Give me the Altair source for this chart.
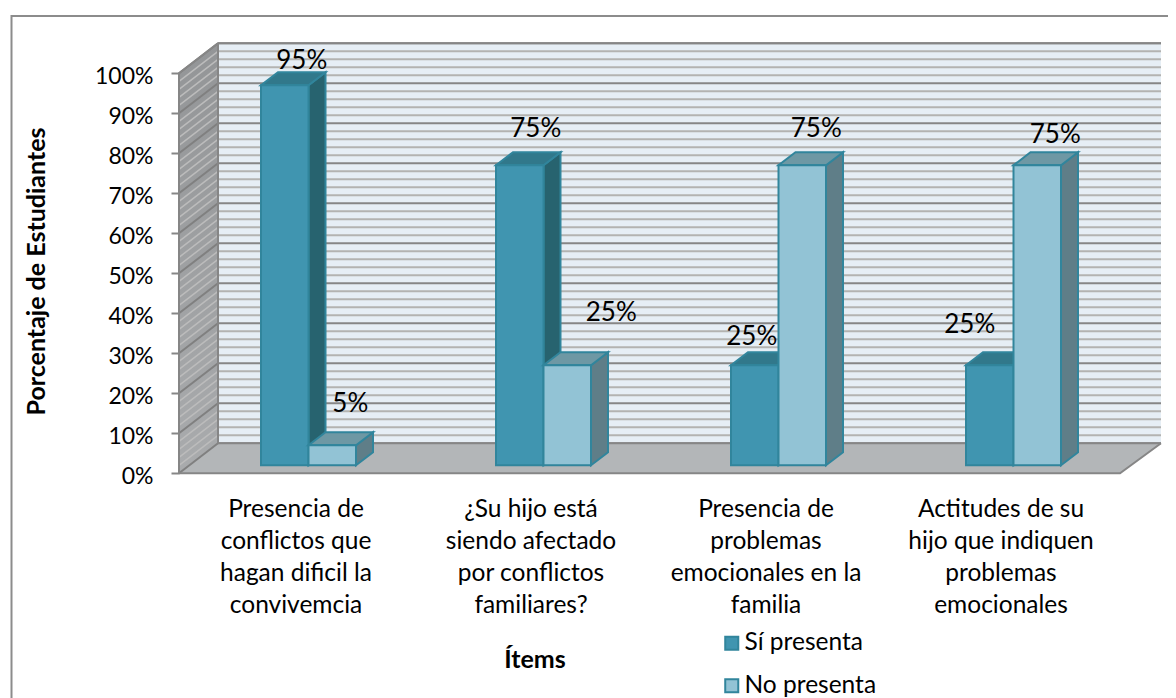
import altair as alt
import pandas as pd

# ---- chart values ----
CATEGORIES = [
    "Presencia de\nconflictos que\nhagan dificil la\nconvivemcia",
    "¿Su hijo está\nsiendo afectado\npor conflictos\nfamiliares?",
    "Presencia de\nproblemas\nemocionales en la\nfamilia",
    "Actitudes de su\nhijo que indiquen\nproblemas\nemocionales",
]
SI_PRESENTA = [95, 75, 25, 25]
NO_PRESENTA = [5, 25, 75, 75]
SERIES = ["Sí presenta", "No presenta"]
Y_TICKS = [0, 10, 20, 30, 40, 50, 60, 70, 80, 90, 100]
MINOR_STEPS = list(range(0, 101, 2))

# ---- layout (image pixels on x, percent on y) ----
FONT = "Lato"
PX_PER_PCT = 4.0
ZERO_PY = 473.3
WIDTH, HEIGHT = 1160, 690
WALL_FRONT_X, WALL_BACK_X, FLOOR_FRONT_RIGHT, WALL_RIGHT = 179, 218, 1120, 1161
DEPTH_PCT = 30 / PX_PER_PCT
GROUP_X0, GROUP_STEP, BAR_W = 261, 235, 47.5
BAR_BASE = 2.0
BAR_DX, BAR_DPCT = 17, 13 / PX_PER_PCT
CAT_X0, CAT_STEP = 296, 235
# label centre offset from the bar's own front-top centre (px right, percent up)
LABEL_NUDGE = [
    [(17, 6.0), (18, 10.25)],
    [(16, 9.0), (44, 13.0)],
    [(-3, 7.0), (14, 9.0)],
    [(-20, 10.0), (18, 7.5)],
]

X = alt.Scale(domain=[8, 8 + WIDTH], nice=False, zero=False)
Y = alt.Scale(
    domain=[(ZERO_PY - 8 - HEIGHT) / PX_PER_PCT, (ZERO_PY - 8) / PX_PER_PCT],
    nice=False,
    zero=False,
)
xe = alt.X("x:Q", scale=X, axis=None, title=None)
ye = alt.Y("y:Q", scale=Y)
x2e = alt.X2("x2:Q")
y2e = alt.Y2("y2:Q")


def area(pts, fill, stroke=None, sw=0):
    """pts = (x, lower, upper) stations of a polygon drawn as an area"""
    df = pd.DataFrame(pts, columns=["x", "y", "y2"])
    kw = dict(fill=fill, strokeWidth=sw, opacity=1, interpolate="linear")
    if stroke:
        kw["stroke"] = stroke
    return alt.Chart(df).mark_area(**kw).encode(x=xe, y=ye, y2=y2e)


def segs(rows, color, sw):
    """rows = (id, x, y) polylines"""
    df = pd.DataFrame(rows, columns=["id", "x", "y"])
    return (
        alt.Chart(df)
        .mark_line(color=color, strokeWidth=sw, interpolate="linear")
        .encode(x=xe, y=ye, detail="id:N")
    )


layers = []

# y axis (carries ticks and the title); first so that its settings win the merge
axis_df = pd.DataFrame({"y": Y_TICKS})
layers.append(
    alt.Chart(axis_df)
    .mark_point(opacity=0)
    .encode(
        x=alt.value(0),
        y=alt.Y(
            "y:Q",
            scale=Y,
            title="Porcentaje de Estudiantes",
            axis=alt.Axis(
                values=Y_TICKS,
                labelExpr="datum.value + '%'",
                offset=-171,
                domain=False,
                grid=False,
                tickSize=8,
                tickColor="#868686",
                tickWidth=2,
                labelPadding=18,
                labelOffset=3,
                labelFont=FONT,
                labelFontSize=23,
                labelColor="#000000",
                titleFont=FONT,
                titleFontSize=25,
                titleFontWeight="bold",
                titleColor="#000000",
                titleX=-130,
                titleY=263,
                titleAnchor="middle",
                titleAlign="center",
            ),
        ),
    )
)

# outer frame (only its left and top edges fall inside the picture)
layers.append(segs(
    [("f", 11.5, (ZERO_PY - 698) / PX_PER_PCT),
     ("f", 11.5, (ZERO_PY - 16) / PX_PER_PCT),
     ("f", 1176, (ZERO_PY - 16) / PX_PER_PCT)],
    "#8c8c8c", 2,
))

# back wall
layers.append(area([(WALL_BACK_X, DEPTH_PCT, DEPTH_PCT + 100), (WALL_RIGHT, DEPTH_PCT, DEPTH_PCT + 100)], "#e6eef5"))
minor = [v for v in MINOR_STEPS if v % 10 != 0]
major = [v for v in MINOR_STEPS if v % 10 == 0]
back_rows = lambda vals: [r for v in vals for r in ((v, WALL_BACK_X, v + DEPTH_PCT), (v, WALL_RIGHT, v + DEPTH_PCT))]
layers.append(segs(back_rows(minor), "#b3b3b1", 2))
layers.append(segs(back_rows(major), "#868686", 2))

# left wall
wall_grad = alt.LinearGradient(
    gradient="linear",
    stops=[alt.GradientStop(color="#939597", offset=0), alt.GradientStop(color="#a9abad", offset=1)],
    x1=0, x2=0, y1=0, y2=1,
)
layers.append(area([(WALL_FRONT_X, 0, 100), (WALL_BACK_X, DEPTH_PCT, DEPTH_PCT + 100)], wall_grad))
side_rows = lambda vals: [r for v in vals for r in ((v, WALL_FRONT_X, v), (v, WALL_BACK_X, v + DEPTH_PCT))]
layers.append(segs(side_rows(minor), "#bcbcbc", 1.5))

# floor
layers.append(area(
    [(WALL_FRONT_X, 0, 0), (WALL_BACK_X, 0, DEPTH_PCT), (FLOOR_FRONT_RIGHT, 0, DEPTH_PCT), (WALL_RIGHT, DEPTH_PCT, DEPTH_PCT)],
    "#b3b6b8",
))
layers.append(segs(side_rows(major), "#808080", 2))
layers.append(segs(
    [("front", WALL_FRONT_X, 0), ("front", FLOOR_FRONT_RIGHT, 0), ("front", WALL_RIGHT, DEPTH_PCT),
     ("back", WALL_BACK_X, DEPTH_PCT), ("back", WALL_RIGHT, DEPTH_PCT),
     ("edge", WALL_FRONT_X, 0), ("edge", WALL_FRONT_X, 100), ("edge", WALL_BACK_X, 100 + DEPTH_PCT),
     ("edge", WALL_RIGHT, 100 + DEPTH_PCT),
     ("backv", WALL_BACK_X, DEPTH_PCT), ("backv", WALL_BACK_X, DEPTH_PCT + 100)],
    "#868686", 2,
))

# bars
OUTLINE = "#31859c"
STYLE = {
    0: dict(front="#4095b0", side="#27636f", top="#31788b"),
    1: dict(front="#92c3d5", side="#5f7e88", top="#6e98a4"),
}
label_rows = []
for g, vals in enumerate(zip(SI_PRESENTA, NO_PRESENTA)):
    for s, v in enumerate(vals):
        x0 = GROUP_X0 + g * GROUP_STEP + s * BAR_W
        x1 = x0 + BAR_W
        top = BAR_BASE + v
        st = STYLE[s]
        layers.append(area(
            [(x1, BAR_BASE, top), (x1 + BAR_DX, BAR_BASE + BAR_DPCT, top + BAR_DPCT)],
            st["side"], OUTLINE, 2,
        ))
        layers.append(area(
            [(x0, top, top), (x0 + BAR_DX, top, top + BAR_DPCT), (x1, top, top + BAR_DPCT), (x1 + BAR_DX, top + BAR_DPCT, top + BAR_DPCT)],
            st["top"], OUTLINE, 2,
        ))
        front = pd.DataFrame([{"x": x0, "x2": x1, "y": BAR_BASE, "y2": top, "serie": SERIES[s]}])
        layers.append(
            alt.Chart(front)
            .mark_rect(stroke=OUTLINE, strokeWidth=2)
            .encode(
                x=xe, x2=x2e, y=ye, y2=y2e,
                color=alt.Color(
                    "serie:N",
                    scale=alt.Scale(domain=SERIES, range=[STYLE[0]["front"], STYLE[1]["front"]]),
                    legend=alt.Legend(
                        orient="none",
                        legendX=711.5,
                        legendY=623,
                        title=None,
                        symbolType="square",
                        symbolSize=170,
                        symbolStrokeColor=OUTLINE,
                        symbolStrokeWidth=2,
                        symbolOpacity=1,
                        labelFont=FONT,
                        labelFontSize=24.5,
                        labelColor="#000000",
                        labelOffset=0.5,
                        rowPadding=17.5,
                        labelLimit=300,
                    ),
                ),
            )
        )
        dx, dy = LABEL_NUDGE[g][s]
        label_rows.append({"x": (x0 + x1) / 2 + dx, "y": top + dy, "t": f"{v}%"})

# value labels
layers.append(
    alt.Chart(pd.DataFrame(label_rows))
    .mark_text(font=FONT, fontSize=26, color="#000000", align="center", baseline="middle")
    .encode(x=xe, y=ye, text="t:N")
)

# category labels
cat_df = pd.DataFrame({
    "x": [CAT_X0 + i * CAT_STEP for i in range(len(CATEGORIES))],
    "y": [(ZERO_PY - 497.5) / PX_PER_PCT] * len(CATEGORIES),
    "t": CATEGORIES,
})
layers.append(
    alt.Chart(cat_df)
    .mark_text(font=FONT, fontSize=24.5, color="#000000", align="center", baseline="top", lineBreak="\n", lineHeight=32.3)
    .encode(x=xe, y=ye, text="t:N")
)

# x title
xt = pd.DataFrame({"x": [535], "y": [(ZERO_PY - 660) / PX_PER_PCT], "t": ["Ítems"]})
layers.append(
    alt.Chart(xt)
    .mark_text(font=FONT, fontSize=25, fontWeight="bold", color="#000000", align="center", baseline="middle")
    .encode(x=xe, y=ye, text="t:N")
)

chart = (
    alt.layer(*layers)
    .properties(width=WIDTH, height=HEIGHT, padding=0, autosize=alt.AutoSizeParams(type="none"), background="#ffffff")
    .configure_view(stroke=None)
)
chart.save("out.html", embed_options={"renderer": "svg", "actions": False})
